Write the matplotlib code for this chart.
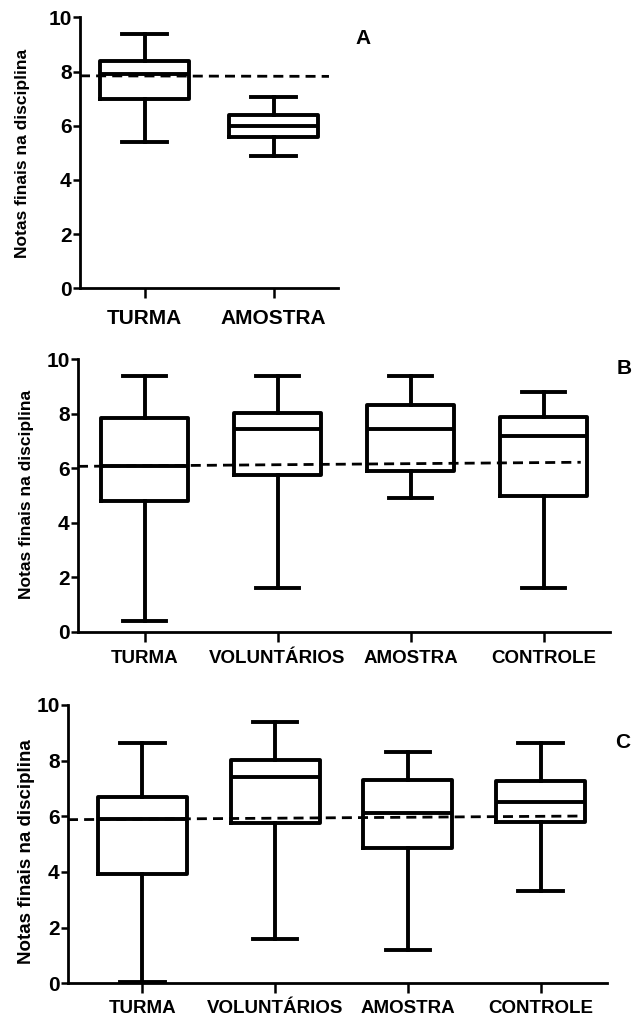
import matplotlib
matplotlib.use("Agg")
import matplotlib.pyplot as plt

plt.rcParams['font.family'] = ['Liberation Sans', 'DejaVu Sans']
plt.rcParams['font.weight'] = 'bold'

# --- Data: box summaries (whisker low, Q1, median, Q3, whisker high) ---
groups_a = ["TURMA", "AMOSTRA"]
lo_a = [5.4, 4.9]
q1_a = [7.0, 5.6]
med_a = [7.9, 6.0]
q3_a = [8.4, 6.4]
hi_a = [9.4, 7.05]
ref_a = [7.84, 7.82]   # dashed reference line, start / end

groups_bc = ["TURMA", "VOLUNTÁRIOS", "AMOSTRA", "CONTROLE"]
lo_b = [0.4, 1.6, 4.9, 1.6]
q1_b = [4.8, 5.75, 5.9, 5.0]
med_b = [6.1, 7.43, 7.43, 7.2]
q3_b = [7.86, 8.02, 8.33, 7.87]
hi_b = [9.4, 9.4, 9.4, 8.8]
ref_b = [6.07, 6.22]

lo_c = [0.05, 1.58, 1.2, 3.3]
q1_c = [3.92, 5.77, 4.87, 5.81]
med_c = [5.92, 7.43, 6.13, 6.5]
q3_c = [6.71, 8.02, 7.32, 7.27]
hi_c = [8.62, 9.38, 8.3, 8.62]
ref_c = [5.88, 6.01]

W, H = 632, 1019
fig = plt.figure(figsize=(W / 100, H / 100), dpi=100)


def px_axes(left, right, top, bottom):
    return fig.add_axes([left / W, 1 - bottom / H, (right - left) / W, (bottom - top) / H])


def panel(ax, names, lo, q1, med, q3, hi, ref, ref_end, xmin, width, xfs, ypad):
    stats = [dict(whislo=a, q1=b, med=c, q3=d, whishi=e, label=n)
             for n, a, b, c, d, e in zip(names, lo, q1, med, q3, hi)]
    pos = list(range(1, len(names) + 1))
    lw = 2.8
    ax.bxp(stats, positions=pos, widths=width, showfliers=False,
           boxprops=dict(color='black', linewidth=lw),
           medianprops=dict(color='black', linewidth=lw),
           whiskerprops=dict(color='black', linewidth=lw),
           capprops=dict(color='black', linewidth=lw))
    ax.plot([xmin, ref_end], ref, color='black', linewidth=2.0,
            dashes=(3.6, 2.2), zorder=5)
    ax.set_xlim(xmin, len(names) + 0.5)
    ax.set_ylim(0, 10)
    ax.set_yticks([0, 2, 4, 6, 8, 10])
    for s in ['top', 'right']:
        ax.spines[s].set_visible(False)
    for s in ['left', 'bottom']:
        ax.spines[s].set_linewidth(2.0)
    ax.tick_params(axis='y', length=5, width=1.8, labelsize=15, pad=1)
    ax.tick_params(axis='x', length=7, width=1.8, labelsize=xfs, pad=ypad)
    for t in ax.get_xticklabels() + ax.get_yticklabels():
        t.set_fontweight('bold')


# Panel A
ax_a = px_axes(80, 338, 17.3, 288.3)
panel(ax_a, groups_a, lo_a, q1_a, med_a, q3_a, hi_a, ref_a, 2.43, 0.5, 0.69, 15, 8)
fig.text(23 / W, 1 - 153 / H, "Notas finais na disciplina", rotation=90,
         ha='center', va='center', fontsize=12.5, fontweight='bold')
fig.text(363 / W, 1 - 39 / H, "A", ha='center', va='center', fontsize=15, fontweight='bold')

# Panel B
ax_b = px_axes(78, 610, 359.3, 631.7)
panel(ax_b, groups_bc, lo_b, q1_b, med_b, q3_b, hi_b, ref_b, 4.28, 0.5, 0.655, 13.5, 6.5)
fig.text(27 / W, 1 - 494 / H, "Notas finais na disciplina", rotation=90,
         ha='center', va='center', fontsize=12.5, fontweight='bold')
fig.text(624 / W, 1 - 368 / H, "B", ha='center', va='center', fontsize=15, fontweight='bold')

# Panel C
ax_c = px_axes(68, 607, 705, 983.3)
panel(ax_c, groups_bc, lo_c, q1_c, med_c, q3_c, hi_c, ref_c, 4.30, 0.44, 0.67, 13.5, 5)
fig.text(27 / W, 1 - 852 / H, "Notas finais na disciplina", rotation=90,
         ha='center', va='center', fontsize=13.5, fontweight='bold')
fig.text(623 / W, 1 - 742 / H, "C", ha='center', va='center', fontsize=15, fontweight='bold')

fig.savefig("out.png", dpi=100, facecolor='white')
